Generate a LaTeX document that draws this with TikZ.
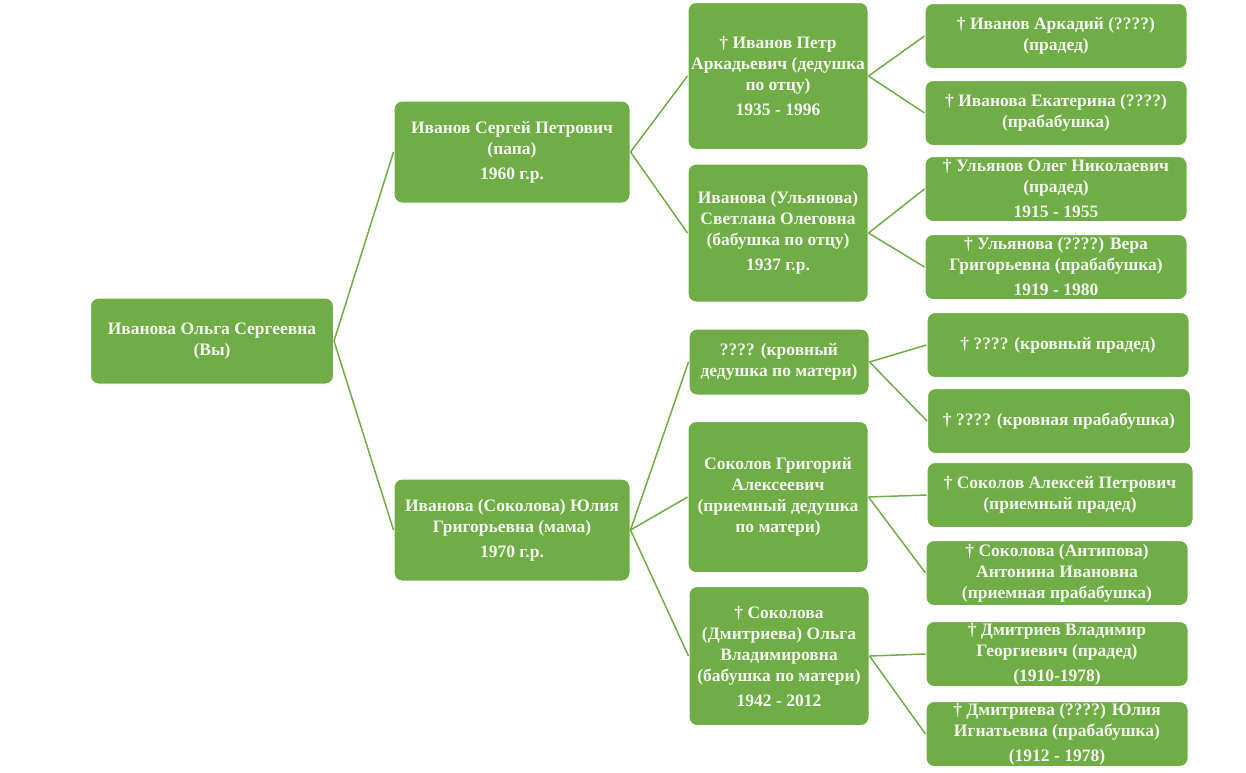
\documentclass[tikz,border=0pt]{standalone}
\usepackage{fontspec}
\setmainfont{Liberation Serif}
\usepackage{tikz}
\definecolor{famgreen}{HTML}{70AD47}
\definecolor{famtext}{HTML}{F4F7F0}

\begin{document}
\begin{tikzpicture}[x=1pt,y=-1pt,
    person/.style={rectangle,rounded corners=8pt,fill=famgreen,draw=white,line width=1pt,
        text=famtext,font=\fontsize{17.5}{21}\selectfont\bfseries,align=center,inner sep=0pt},
    gen1/.style={person,minimum width=243pt,minimum height=86pt},
    gen2/.style={person,minimum width=236pt,minimum height=102pt},
    gen3/.style={person,minimum width=180pt},
    gen4/.style={person,minimum width=262pt,minimum height=65pt},
    link/.style={draw=famgreen,line width=1.5pt}]
                \useasboundingbox (0,0) rectangle (1246,772);
                \node[gen1] (you) at (212,341) {Иванова Ольга Сергеевна\\(Вы)};
                \node[gen2] (father) at (512,152) {Иванов Сергей Петрович\\(папа)\\[4pt]1960 г.р.};
                \node[gen2] (mother) at (512,530) {Иванова (Соколова) Юлия\\Григорьевна (мама)\\[4pt]1970 г.р.};
                \node[gen3,minimum height=147pt] (grandpaF) at (778,76) {† Иванов Петр\\Аркадьевич (дедушка\\по отцу)\\[4pt]1935 - 1996};
                \node[gen3,minimum height=138pt] (grandmaF) at (778,233) {Иванова (Ульянова)\\Светлана Олеговна\\(бабушка по отцу)\\[4pt]1937 г.р.};
                \node[gen3,minimum height=66pt] (grandpaM) at (779,362) {???? (кровный\\дедушка по матери)};
                \node[gen3,minimum height=151pt] (stepgrandpaM) at (778,497) {Соколов Григорий\\Алексеевич\\(приемный дедушка\\по матери)};
                \node[gen3,minimum height=139pt] (grandmaM) at (779,656) {† Соколова\\(Дмитриева) Ольга\\Владимировна\\(бабушка по матери)\\[4pt]1942 - 2012};
                \node[gen4] (ggfA) at (1056,36) {† Иванов Аркадий (????)\\(прадед)};
                \node[gen4] (ggmA) at (1056,113) {† Иванова Екатерина (????)\\(прабабушка)};
                \node[gen4] (ggfB) at (1056,189) {† Ульянов Олег Николаевич\\(прадед)\\[4pt]1915 - 1955};
                \node[gen4] (ggmB) at (1056,267) {† Ульянова (????) Вера\\Григорьевна (прабабушка)\\[4pt]1919 - 1980};
                \node[gen4] (ggfC) at (1058,345) {† ???? (кровный прадед)};
                \node[gen4,minimum width=263pt] (ggmC) at (1059,421) {† ???? (кровная прабабушка)};
                \node[gen4,minimum width=266pt] (ggfD) at (1060,495) {† Соколов Алексей Петрович\\(приемный прадед)};
                \node[gen4] (ggmD) at (1057,573) {† Соколова (Антипова)\\Антонина Ивановна\\(приемная прабабушка)};
                \node[gen4] (ggfE) at (1057,654) {† Дмитриев Владимир\\Георгиевич (прадед)\\[4pt](1910-1978)};
                \node[gen4] (ggmE) at (1057,734) {† Дмитриева (????) Юлия\\Игнатьевна (прабабушка)\\[4pt](1912 - 1978)};
                \draw[link] (you.east) -- (father.west);
                \draw[link] (you.east) -- (mother.west);
                \draw[link] (father.east) -- (grandpaF.west);
                \draw[link] (father.east) -- (grandmaF.west);
                \draw[link] (mother.east) -- (grandpaM.west);
                \draw[link] (mother.east) -- (stepgrandpaM.west);
                \draw[link] (mother.east) -- (grandmaM.west);
                \draw[link] (grandpaF.east) -- (ggfA.west);
                \draw[link] (grandpaF.east) -- (ggmA.west);
                \draw[link] (grandmaF.east) -- (ggfB.west);
                \draw[link] (grandmaF.east) -- (ggmB.west);
                \draw[link] (grandpaM.east) -- (ggfC.west);
                \draw[link] (grandpaM.east) -- (ggmC.west);
                \draw[link] (stepgrandpaM.east) -- (ggfD.west);
                \draw[link] (stepgrandpaM.east) -- (ggmD.west);
                \draw[link] (grandmaM.east) -- (ggfE.west);
                \draw[link] (grandmaM.east) -- (ggmE.west);
            \end{tikzpicture}
\end{document}
